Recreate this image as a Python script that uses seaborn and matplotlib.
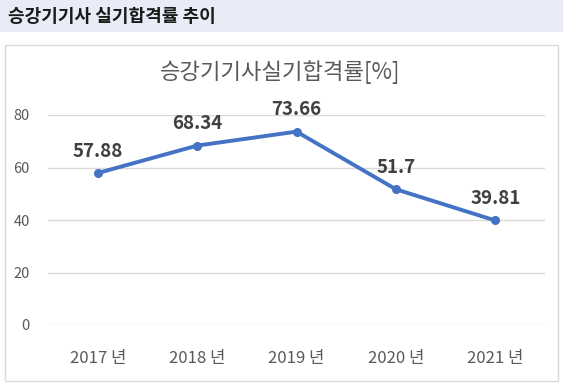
import matplotlib
matplotlib.use("Agg")
import matplotlib.pyplot as plt
import seaborn as sns
import pandas as pd
from matplotlib.patches import Rectangle

years = ["2017 년", "2018 년", "2019 년", "2020 년", "2021 년"]
rates = [57.88, 68.34, 73.66, 51.7, 39.81]
rate_labels = ["57.88", "68.34", "73.66", "51.7", "39.81"]
yticks = [0, 20, 40, 60, 80]

sns.set_theme(style="white")
plt.rcParams['font.family'] = ['Noto Sans CJK KR', 'DejaVu Sans']

df = pd.DataFrame({"year": years, "rate": rates})

W, H = 563, 391
fig = plt.figure(figsize=(W / 100, H / 100), dpi=100)
fig.patch.set_facecolor("white")

# header band
fig.patches.append(Rectangle((0, 1 - 31.5 / H), 1, 31.5 / H, transform=fig.transFigure,
                             facecolor="#e7ecf7", edgecolor="none", zorder=-2))
fig.text(8 / W, 1 - 16 / H, "승강기기사 실기합격률 추이", fontsize=13, fontweight="bold",
         color="#1a1a1a", va="center", ha="left")

# chart border
fig.patches.append(Rectangle((4.5 / W, 1 - 380.5 / H), 553 / W, 335.5 / H, transform=fig.transFigure,
                             facecolor="white", edgecolor="#d9d9d9", linewidth=1, zorder=-2))
fig.text(280 / W, 1 - 72 / H, "승강기기사실기합격률[%]", fontsize=16, color="#595959",
         va="center", ha="center")

ax = fig.add_axes([48 / W, (H - 325) / H, 497 / W, 210 / H])
ax.set_facecolor("none")
ax.set_zorder(1)
sns.lineplot(data=df, x="year", y="rate", ax=ax, color="#4472c4", linewidth=2.8,
             marker="o", markersize=6.5, markeredgewidth=0, sort=False)

for i, (v, lab) in enumerate(zip(rates, rate_labels)):
    ax.annotate(lab, (i, v), xytext=(0, 9), textcoords="offset points", ha="center",
                va="bottom", fontsize=13.5, fontweight="bold", color="#404040")

ax.set_ylim(0, 80)
ax.set_xlim(-0.5, 4.5)
ax.set_yticks(yticks)
ax.set_yticklabels([str(t) for t in yticks])
ax.yaxis.grid(True, color="#d9d9d9", linewidth=1)
ax.set_axisbelow(True)
for s in ax.spines.values():
    s.set_visible(False)
ax.tick_params(axis="y", length=0, labelsize=10.5, labelcolor="#595959", pad=13)
ax.tick_params(axis="x", length=0, labelsize=12, labelcolor="#595959", pad=18)
ax.set_xlabel("")
ax.set_ylabel("")

fig.savefig("out.png", dpi=100)
